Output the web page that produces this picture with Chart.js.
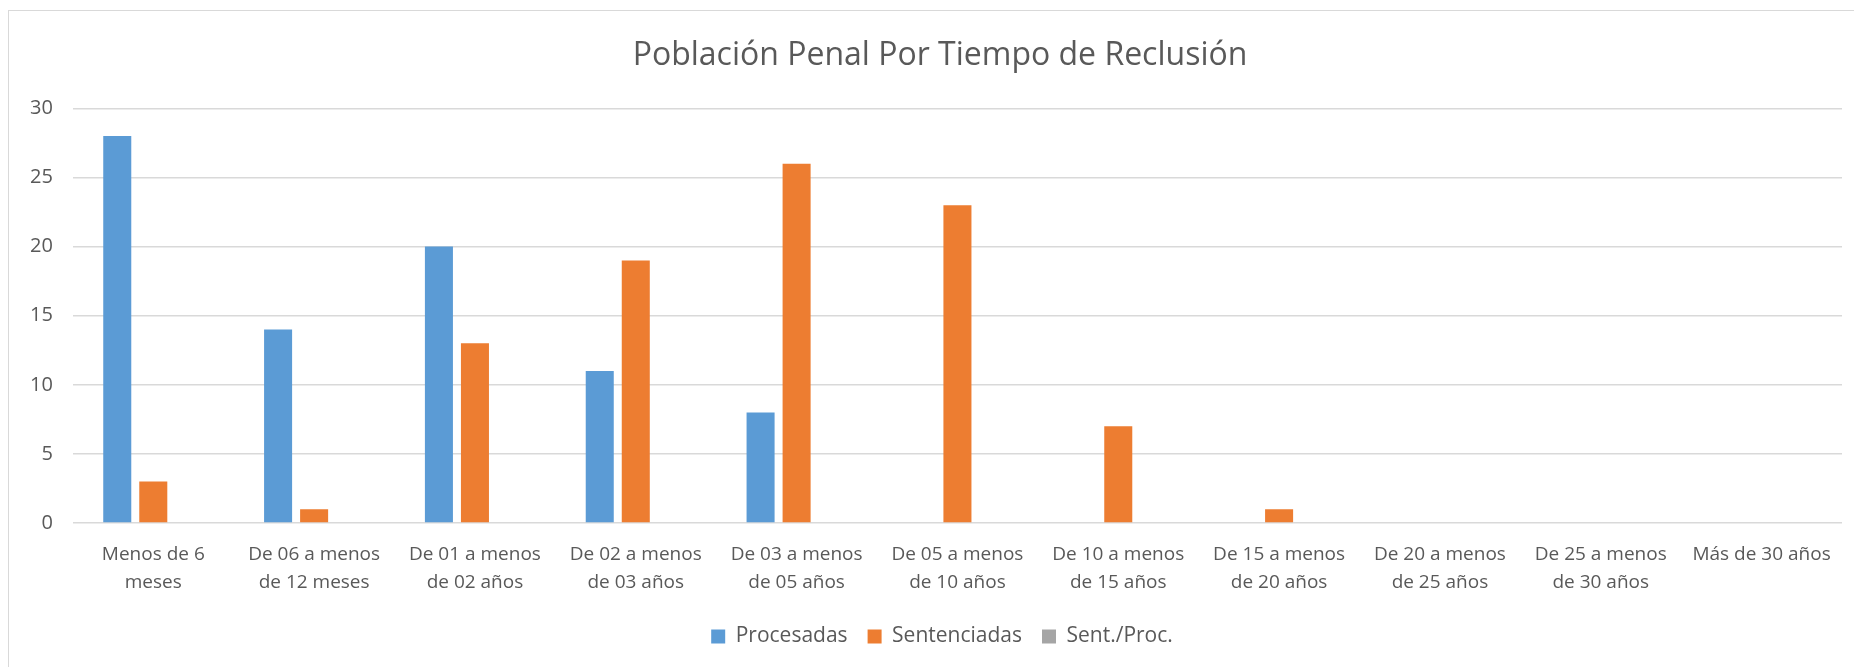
<!DOCTYPE html>
<html lang="es">
<head>
  <meta charset="UTF-8">
  <title>Población Penal Por Tiempo de Reclusión</title>
  <style>
    html, body {
      margin: 0;
      padding: 0;
      background: #fff;
      overflow: hidden;
    }
    #frame {
      position: absolute;
      left: 8px;
      top: 10px;
      width: 1860px;
      height: 700px;
      border: 1px solid #d9d9d9;
      box-sizing: border-box;
    }
    #wrap {
      position: absolute;
      left: 0;
      top: 0;
      width: 1854px;
      height: 667px;
    }
  </style>
</head>
<body>
  <div id="frame"></div>
  <div id="wrap"><canvas id="chart"></canvas></div>

  <script src="https://cdn.jsdelivr.net/npm/chart.js"></script>
  <script>
    const categories = [
      ['Menos de 6', 'meses'],
      ['De 06 a menos', 'de 12 meses'],
      ['De 01 a menos', 'de 02 años'],
      ['De 02 a menos', 'de 03 años'],
      ['De 03 a menos', 'de 05 años'],
      ['De 05 a menos', 'de 10 años'],
      ['De 10 a menos', 'de 15 años'],
      ['De 15 a menos', 'de 20 años'],
      ['De 20 a menos', 'de 25 años'],
      ['De 25 a menos', 'de 30 años'],
      'Más de 30 años'
    ];
    const procesadas   = [28, 14, 20, 11, 8, 0, 0, 0, 0, 0, 0];
    const sentenciadas = [3, 1, 13, 19, 26, 23, 7, 1, 0, 0, 0];
    const sentProc     = [0, 0, 0, 0, 0, 0, 0, 0, 0, 0, 0];
    const yTicks = [0, 5, 10, 15, 20, 25, 30];

    const textColor = '#595959';
    const fontFamily = '"Open Sans", "Liberation Sans", sans-serif';

    // title and legend sit a bit right of the canvas centre in the original
    const shiftBlocks = {
      id: 'shiftBlocks',
      afterLayout(chart) {
        chart.titleBlock.left += 14;
        chart.titleBlock.right += 14;
        chart.legend.left += 16;
        chart.legend.right += 16;
      }
    };

    const ctx = document.getElementById('chart').getContext('2d');
    new Chart(ctx, {
      type: 'bar',
      data: {
        labels: categories,
        datasets: [
          { label: 'Procesadas', data: procesadas, backgroundColor: '#5b9bd5' },
          { label: 'Sentenciadas', data: sentenciadas, backgroundColor: '#ed7d31' },
          { label: 'Sent./Proc.', data: sentProc, backgroundColor: '#a5a5a5' }
        ]
      },
      plugins: [shiftBlocks],
      options: {
        responsive: true,
        maintainAspectRatio: false,
        animation: false,
        categoryPercentage: 0.672,
        barPercentage: 0.778,
        layout: { padding: { left: 10, right: 12, top: 0, bottom: 10 } },
        plugins: {
          title: {
            display: true,
            text: 'Población Penal Por Tiempo de Reclusión',
            color: textColor,
            font: { family: fontFamily, size: 32, weight: 'normal' },
            padding: { top: 37, bottom: 33 }
          },
          legend: {
            position: 'bottom',
            labels: {
              color: textColor,
              font: { family: fontFamily, size: 21 },
              boxWidth: 14,
              boxHeight: 14,
              padding: 20
            }
          },
          tooltip: { enabled: false }
        },
        scales: {
          x: {
            grid: { display: false },
            border: { display: false },
            ticks: {
              color: textColor,
              font: { family: fontFamily, size: 19, lineHeight: 1.5 },
              maxRotation: 0,
              autoSkip: false,
              padding: 9
            }
          },
          y: {
            min: 0,
            max: 30,
            afterBuildTicks: axis => { axis.ticks = yTicks.map(v => ({ value: v })); },
            grid: { color: '#d9d9d9', lineWidth: 1.5, drawTicks: false },
            border: { display: false },
            ticks: {
              color: textColor,
              font: { family: fontFamily, size: 20 },
              padding: 20
            }
          }
        }
      }
    });
  </script>
</body>
</html>
